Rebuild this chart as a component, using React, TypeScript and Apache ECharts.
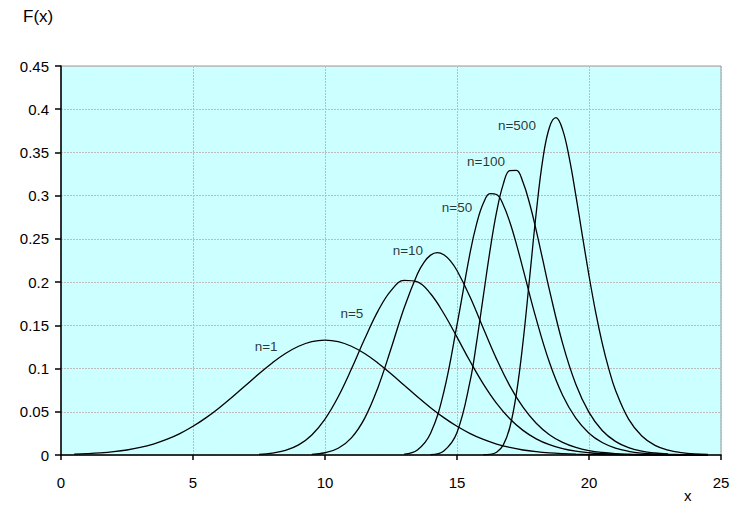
import React, { useEffect, useRef } from "react";
import * as echarts from "echarts";

const FONT = '"Liberation Sans", Arial, sans-serif';

const seriesNames = ["n=1", "n=5", "n=10", "n=50", "n=100", "n=500"];

const n1X = [0.5, 1, 1.5, 2, 2.5, 3, 3.5, 4, 4.5, 5, 5.5, 6, 6.5, 7, 7.5, 8, 8.5, 9, 9.5, 10, 10.5, 11, 11.5, 12, 12.5, 13, 13.5, 14, 14.5, 15, 15.5, 16, 16.5, 17, 17.5, 18, 18.5, 19, 19.5, 20, 20.5, 21, 21.5, 22, 22.5, 23, 23.5, 24, 24.5];
const n1Y = [0.0009, 0.0015, 0.0024, 0.0038, 0.0058, 0.0087, 0.0127, 0.018, 0.0248, 0.0332, 0.0432, 0.0547, 0.0673, 0.0807, 0.094, 0.1065, 0.1174, 0.1258, 0.1312, 0.133, 0.1312, 0.1258, 0.1174, 0.1065, 0.094, 0.0807, 0.0673, 0.0547, 0.0432, 0.0332, 0.0248, 0.018, 0.0127, 0.0087, 0.0058, 0.0038, 0.0024, 0.0015, 0.0009, 0.0005, 0.0003, 0.0002, 0.0001, 0, 0, 0, 0, 0, 0];

const n5X = [7.5, 8, 8.5, 9, 9.5, 10, 10.5, 11, 11.5, 12, 12.5, 13, 13.5, 14, 14.5, 15, 15.5, 16, 16.5, 17, 17.5, 18, 18.5, 19, 19.5, 20, 20.5, 21, 21.5, 22, 22.5, 23, 23.5, 24, 24.5];
const n5Y = [0.0008, 0.0022, 0.0053, 0.0117, 0.0232, 0.0416, 0.0674, 0.0994, 0.1341, 0.1662, 0.1902, 0.2021, 0.2004, 0.1865, 0.1637, 0.1363, 0.1081, 0.0821, 0.0598, 0.042, 0.0285, 0.0187, 0.0119, 0.0074, 0.0044, 0.0026, 0.0015, 0.0008, 0.0004, 0.0002, 0.0001, 0.0001, 0, 0, 0];

const n10X = [9.5, 10, 10.5, 11, 11.5, 12, 12.5, 13, 13.5, 13.75, 14, 14.25, 14.5, 14.75, 15, 15.5, 16, 16.5, 17, 17.5, 18, 18.5, 19, 19.5, 20, 20.5, 21, 21.5, 22, 22.5, 23, 23.5, 24, 24.5];
const n10Y = [0.0007, 0.0026, 0.0078, 0.0198, 0.0424, 0.0776, 0.1229, 0.1704, 0.2095, 0.2229, 0.2312, 0.2341, 0.2317, 0.2246, 0.2134, 0.1825, 0.1463, 0.1109, 0.08, 0.0553, 0.0367, 0.0235, 0.0146, 0.0088, 0.0051, 0.0029, 0.0016, 0.0009, 0.0005, 0.0002, 0.0001, 0.0001, 0, 0];

const n50X = [13, 13.5, 14, 14.5, 15, 15.5, 15.75, 16, 16.25, 16.5, 16.75, 17, 17.25, 17.5, 18, 18.5, 19, 19.5, 20, 20.5, 21, 21.5, 22, 22.5, 23, 23.5, 24, 24.5];
const n50Y = [0.0009, 0.0058, 0.0252, 0.0729, 0.1505, 0.2346, 0.2682, 0.2914, 0.3024, 0.3013, 0.2896, 0.2695, 0.244, 0.2153, 0.1574, 0.1072, 0.0691, 0.0426, 0.0252, 0.0144, 0.008, 0.0043, 0.0022, 0.0011, 0.0006, 0.0003, 0.0001, 0.0001];

const n100X = [14, 14.5, 15, 15.5, 15.75, 16, 16.25, 16.5, 16.75, 17, 17.25, 17.5, 17.75, 18, 18.25, 18.5, 19, 19.5, 20, 20.5, 21, 21.5, 22, 22.5, 23, 23.5, 24, 24.5];
const n100Y = [0.0004, 0.0046, 0.026, 0.086, 0.1321, 0.1844, 0.2364, 0.2812, 0.3131, 0.329, 0.3293, 0.3154, 0.2909, 0.2599, 0.2256, 0.191, 0.1292, 0.0819, 0.0493, 0.0284, 0.0158, 0.0085, 0.0045, 0.0023, 0.0011, 0.0005, 0.0003, 0.0001];

const n500X = [16, 16.25, 16.5, 16.75, 17, 17.25, 17.5, 17.75, 18, 18.25, 18.5, 18.75, 19, 19.25, 19.5, 19.75, 20, 20.25, 20.5, 20.75, 21, 21.5, 22, 22.5, 23, 23.5, 24, 24.5];
const n500Y = [0.0001, 0.0006, 0.0032, 0.0114, 0.0318, 0.071, 0.1305, 0.2047, 0.28, 0.3419, 0.3788, 0.3902, 0.3764, 0.344, 0.3007, 0.2536, 0.2075, 0.1656, 0.1295, 0.0996, 0.0753, 0.0415, 0.022, 0.0112, 0.0056, 0.0027, 0.0012, 0.0006];

const seriesX = [n1X, n5X, n10X, n50X, n100X, n500X];
const seriesY = [n1Y, n5Y, n10Y, n50Y, n100Y, n500Y];

// curve annotation positions (data coordinates)
const labelX = [7.77, 11.02, 13.14, 15.0, 16.1, 17.27];
const labelY = [0.126, 0.164, 0.237, 0.286, 0.34, 0.381];

const xTicks = { min: 0, max: 25, interval: 5 };
const yTicks = { min: 0, max: 0.45, interval: 0.05 };

export default function App() {
  const ref = useRef<HTMLDivElement>(null);
  useEffect(() => {
    if (!ref.current) return;
    const chart = echarts.init(ref.current, null, { renderer: "svg" });
    const lineSeries = seriesNames.map((name, s) => ({
      name,
      type: "line",
      data: seriesX[s].map((x, i) => [x, seriesY[s][i]]),
      showSymbol: false,
      symbol: "none",
      smooth: 0.4,
      lineStyle: { color: "#000", width: 1.3 },
      silent: true,
      z: 3,
    }));
    const labelSeries = {
      type: "scatter",
      symbolSize: 0,
      silent: true,
      z: 4,
      data: seriesNames.map((name, i) => ({ name, value: [labelX[i], labelY[i]] })),
      label: {
        show: true,
        position: [0, 0],
        align: "center",
        verticalAlign: "middle",
        formatter: (p: any) => p.name,
        color: "#000",
        fontFamily: FONT,
        fontSize: 13.5,
      },
    };
    chart.setOption({
      animation: false,
      backgroundColor: "#fff",
      grid: {
        left: 61,
        right: 12,
        top: 66,
        bottom: 52,
        show: true,
        backgroundColor: "#CCFFFF",
        borderColor: "#999",
        borderWidth: 1,
      },
      xAxis: {
        type: "value",
        min: xTicks.min,
        max: xTicks.max,
        interval: xTicks.interval,
        axisLine: { show: true, onZero: false, lineStyle: { color: "#000", width: 1.5 } },
        axisTick: { show: true, inside: false, length: 5, lineStyle: { color: "#000", width: 1.5 } },
        axisLabel: { color: "#000", fontFamily: FONT, fontSize: 15, margin: 20 },
        splitLine: { show: true, lineStyle: { color: "#bdbdbd", type: [2, 1], width: 1 } },
      },
      yAxis: {
        type: "value",
        min: yTicks.min,
        max: yTicks.max,
        interval: yTicks.interval,
        axisLine: { show: true, onZero: false, lineStyle: { color: "#000", width: 1.5 } },
        axisTick: { show: true, inside: false, length: 6, lineStyle: { color: "#000", width: 1.5 } },
        axisLabel: { color: "#000", fontFamily: FONT, fontSize: 15, margin: 12 },
        splitLine: { show: true, lineStyle: { color: "#bdbdbd", type: [2, 1], width: 1 } },
      },
      graphic: [
        {
          type: "text",
          left: 23,
          top: 8,
          style: { text: "F(x)", fill: "#000", font: `17px ${FONT}` },
        },
        {
          type: "text",
          left: 684,
          top: 488,
          style: { text: "x", fill: "#000", font: `15px ${FONT}` },
        },
      ],
      series: [...lineSeries, labelSeries],
    });
    return () => chart.dispose();
  }, []);
  return (
    <div
      ref={ref}
      style={{ position: "fixed", left: 0, top: 0, width: 733, height: 507 }}
    />
  );
}
